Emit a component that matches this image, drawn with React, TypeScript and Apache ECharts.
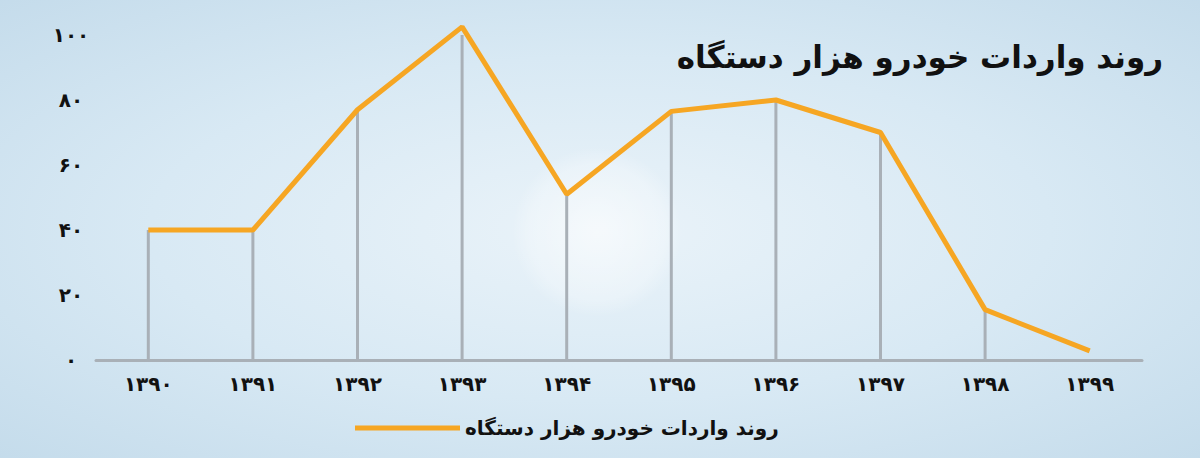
import React, { useEffect, useRef } from "react";
import * as echarts from "echarts";

const years = ["۱۳۹۰", "۱۳۹۱", "۱۳۹۲", "۱۳۹۳", "۱۳۹۴", "۱۳۹۵", "۱۳۹۶", "۱۳۹۷", "۱۳۹۸", "۱۳۹۹"];
const imports = [40, 40, 77, 102.5, 51, 76.5, 80, 70, 15.5, 2.8];
const dropLines = [40, 40, 77, 102.5, 51, 76.5, 80, 70, 15.5, null];
const yTickLabels: Record<string, string> = {
  "0": "۰",
  "20": "۲۰",
  "40": "۴۰",
  "60": "۶۰",
  "80": "۸۰",
  "100": "۱۰۰",
};
const titleText = "روند واردات خودرو هزار دستگاه";
const seriesName = "روند واردات خودرو هزار دستگاه";

const FONT = "'DejaVu Sans', sans-serif";

export default function App() {
  const ref = useRef<HTMLDivElement>(null);
  useEffect(() => {
    if (!ref.current) return;
    const chart = echarts.init(ref.current, undefined, { renderer: "svg" });
    chart.setOption({
      animation: false,
      backgroundColor: {
        type: "radial",
        x: 0.5,
        y: 0.5,
        r: 0.75,
        colorStops: [
          { offset: 0, color: "#eaf3f9" },
          { offset: 0.5, color: "#d8e9f4" },
          { offset: 1, color: "#c2daea" },
        ],
      },
      graphic: [
        {
          type: "circle",
          shape: { cx: 597, cy: 232, r: 85 },
          silent: true,
          z: -1,
          style: {
            fill: {
              type: "radial",
              x: 0.5,
              y: 0.5,
              r: 0.5,
              colorStops: [
                { offset: 0, color: "rgba(255,255,255,0.55)" },
                { offset: 0.8, color: "rgba(255,255,255,0.25)" },
                { offset: 1, color: "rgba(255,255,255,0)" },
              ],
            },
          },
        },
      ],
      title: {
        text: titleText,
        right: 32,
        top: 36,
        textStyle: {
          fontFamily: FONT,
          fontSize: 31,
          fontWeight: "bold",
          color: "#111",
        },
      },
      legend: {
        left: 350,
        top: 413,
        itemWidth: 105,
        itemHeight: 5,
        itemGap: 10,
        icon: "rect",
        data: [seriesName],
        textStyle: {
          fontFamily: FONT,
          fontSize: 20,
          fontWeight: "bold",
          color: "#111",
        },
      },
      grid: { left: 96, right: 58, top: 35, bottom: 98, containLabel: false },
      xAxis: {
        type: "category",
        data: years,
        boundaryGap: true,
        axisLine: { show: true, lineStyle: { color: "#a9b0b7", width: 3 } },
        axisTick: { show: false },
        axisLabel: {
          margin: 14,
          fontFamily: FONT,
          fontSize: 20,
          fontWeight: "bold",
          color: "#111",
        },
        splitLine: { show: false },
      },
      yAxis: {
        type: "value",
        min: 0,
        max: 100,
        interval: 20,
        axisLine: { show: false },
        axisTick: { show: false },
        splitLine: { show: false },
        axisLabel: {
          align: "center",
          margin: 25,
          fontFamily: FONT,
          fontSize: 20,
          fontWeight: "bold",
          color: "#111",
          formatter: (v: number) => yTickLabels[String(v)] ?? String(v),
        },
      },
      series: [
        {
          type: "bar",
          data: dropLines,
          barWidth: 3,
          itemStyle: { color: "#a9b0b7" },
          silent: true,
          legendHoverLink: false,
          z: 1,
        },
        {
          name: seriesName,
          type: "line",
          data: imports,
          clip: false,
          symbol: "none",
          lineStyle: { color: "#f6a623", width: 5 },
          itemStyle: { color: "#f6a623" },
          z: 3,
        },
      ],
    });
    return () => chart.dispose();
  }, []);
  return (
    <div
      ref={ref}
      style={{ position: "absolute", left: 0, top: 0, width: 1200, height: 458 }}
    />
  );
}
